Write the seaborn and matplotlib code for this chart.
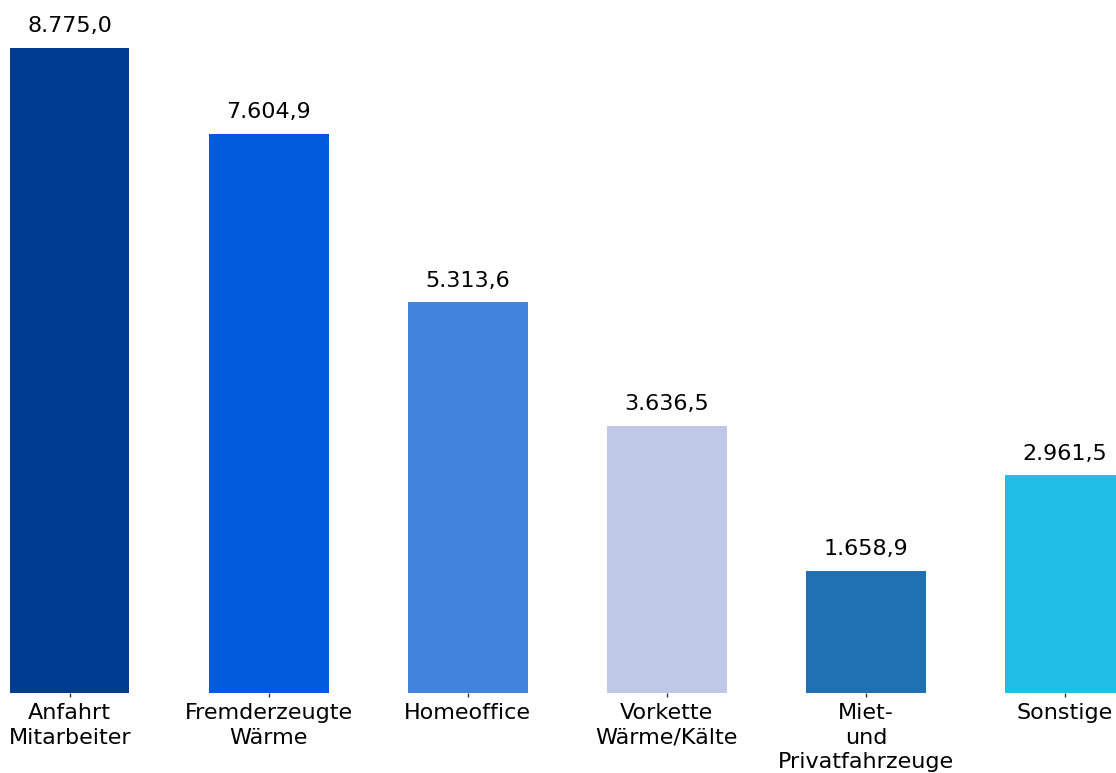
import matplotlib
matplotlib.use('Agg')
import matplotlib.pyplot as plt
import seaborn as sns
import pandas as pd

# Kategorien und Werte
categories = ['Anfahrt\nMitarbeiter', 'Fremderzeugte\nWärme', 'Homeoffice',
              'Vorkette\nWärme/Kälte', 'Miet-\nund\nPrivatfahrzeuge', 'Sonstige']
values = [8775.0, 7604.9, 5313.6, 3636.5, 1658.9, 2961.5]
value_labels = ['8.775,0', '7.604,9', '5.313,6', '3.636,5', '1.658,9', '2.961,5']
colors = ['#003C8F', '#005BDC', '#4283DC', '#BFC8E6', '#2070B4', '#20BDE4']

sns.set_style('white')
plt.rcParams['font.family'] = ['DejaVu Sans']

df = pd.DataFrame({'cat': categories, 'val': values})

fig = plt.figure(figsize=(11.16, 7.73), dpi=100)
ax = fig.add_axes([10 / 1116, 80 / 773, 1106 / 1116, 693 / 773])

sns.barplot(data=df, x='cat', y='val', hue='cat', palette=colors,
            width=0.6, legend=False, ax=ax, saturation=1, linewidth=0)

for i, (v, lab) in enumerate(zip(values, value_labels)):
    ax.annotate(lab, (i, v), xytext=(0, 8.5), textcoords='offset points',
                ha='center', va='bottom', fontsize=16, color='black')

ax.set_xlim(-0.3, 5.256)
ax.set_ylim(0, 9428)
ax.set_xlabel('')
ax.set_ylabel('')
ax.set_yticks([])
ax.tick_params(axis='x', labelsize=16, length=3, width=1, color='#333333',
               labelcolor='black', bottom=True, pad=4)
for t in ax.get_xticklabels():
    t.set_linespacing(1.3)
for s in ax.spines.values():
    s.set_visible(False)

fig.savefig('out.png', dpi=100)
